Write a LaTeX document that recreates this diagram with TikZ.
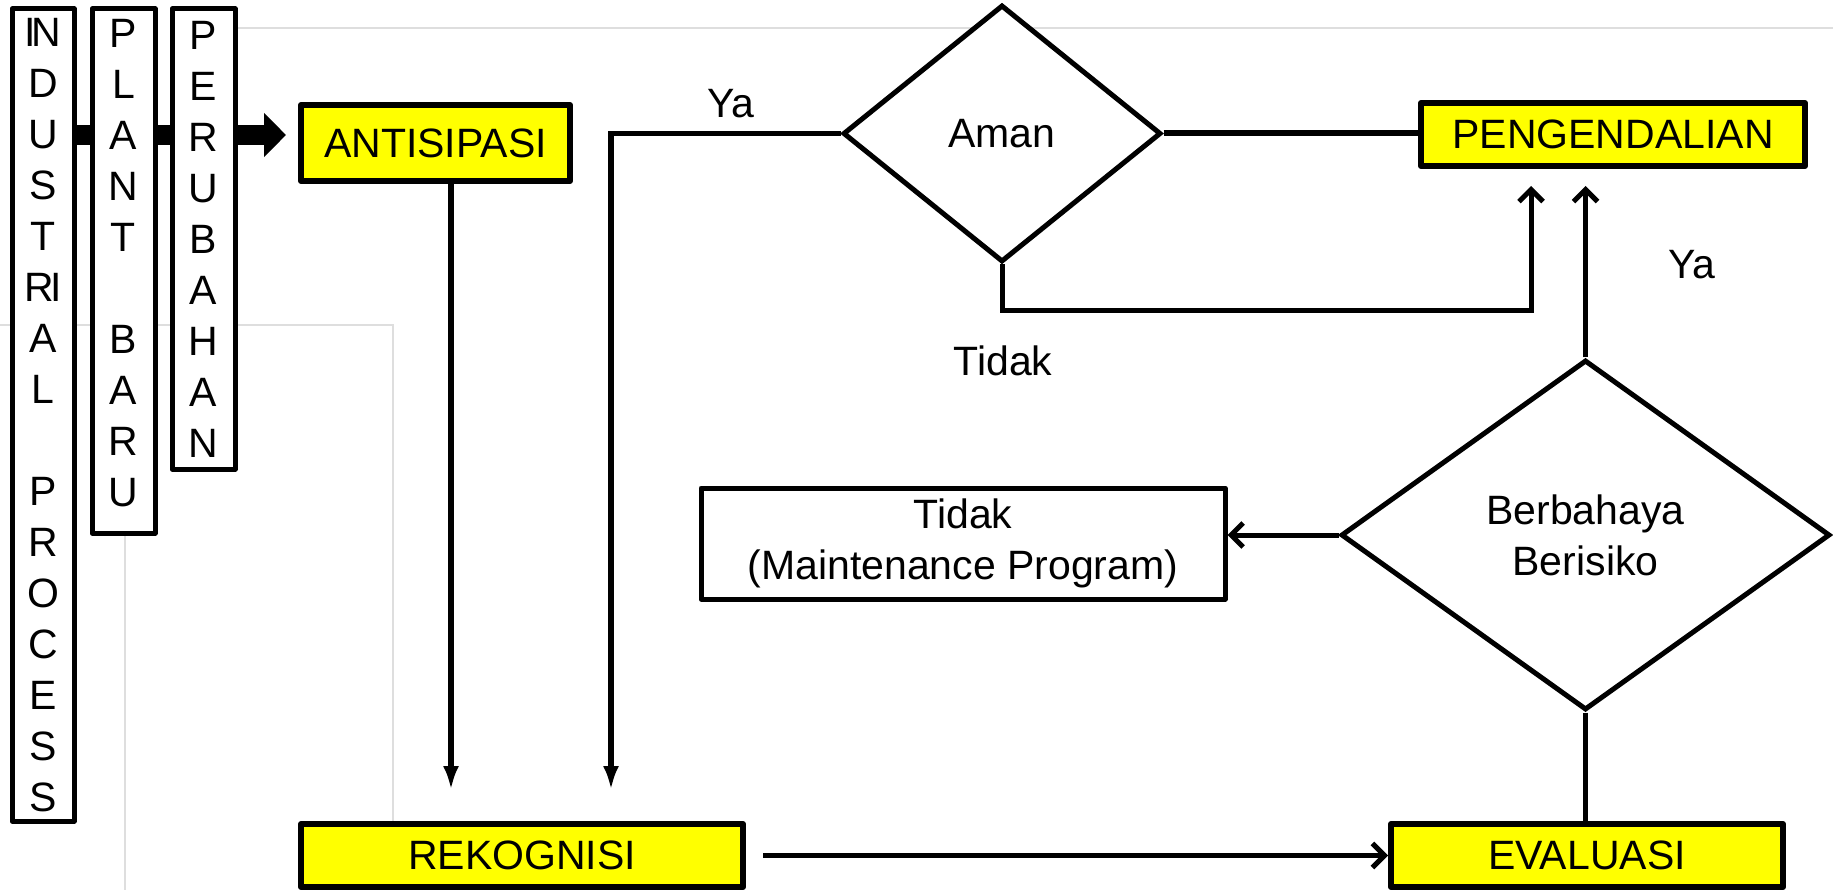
\documentclass[tikz,border=0pt]{standalone}
\usepackage{fontspec}
\setmainfont{Liberation Sans}
\usetikzlibrary{shapes.geometric,arrows.meta,calc}
\definecolor{yel}{RGB}{255,255,0}
\definecolor{bggrey}{RGB}{222,222,222}
\begin{document}
\begin{tikzpicture}[x=1pt,y=-1pt,
  txt/.style={font=\fontsize{41}{51}\selectfont},
  ybox/.style={draw, line width=6pt, fill=yel, inner sep=0pt, line join=round, txt},
  wbox/.style={draw, line width=5pt, fill=white, inner sep=0pt, line join=round, align=center, txt},
  dia/.style={diamond, draw, line width=5pt, fill=white, inner sep=0pt, align=center, txt},
  lbl/.style={inner sep=0pt, txt},
  bgline/.style={draw=bggrey, line width=2.5pt},
  thickbar/.style={line width=20pt},
  fline/.style={line width=5.5pt, -{Latex[length=24pt 0 0,width=16pt 0 0]}},
  oline/.style={line width=5pt, -{Straight Barb[length=12pt 0 0,width=24pt 0 0]}},
  pline/.style={line width=5pt}
]
\useasboundingbox (0,0) rectangle (1833,890);
\fill[white] (0,0) rectangle (1833,890);
% faint background lines
\draw[bgline] (236,28) -- (1833,28);
\draw[bgline] (0,325) -- (393,325) -- (393,890);
\draw[bgline] (125,325) -- (125,890);

% vertical boxes
\node[wbox, minimum width=62pt, minimum height=812pt] (v1) at (43,415)
  {I\kern-4pt N\\D\\U\\S\\T\\R\kern-3pt I\\A\\L\\[51pt]P\\R\\O\\C\\E\\S\\S};
\node[wbox, minimum width=63pt, minimum height=524pt] (v2) at (123.5,271)
  {P\\L\\A\\N\\T\\[51pt]B\\A\\R\\U\\[-35pt]\mbox{}};
\node[wbox, minimum width=63pt, minimum height=460pt] (v3) at (203.5,239)
  {P\\E\\R\\U\\B\\A\\H\\A\\N};

% yellow boxes
\node[ybox, minimum width=269pt, minimum height=76pt] (anti) at (435.5,143) {ANTISIPASI};
\node[ybox, minimum width=384pt, minimum height=63pt] (peng) at (1613,134.5) {PENGENDALIAN};
\node[ybox, minimum width=442pt, minimum height=63pt] (rek) at (522,855.5) {REKOGNISI};
\node[ybox, minimum width=392pt, minimum height=63pt] (eval) at (1587,855.5) {EVALUASI};

% white box
\node[wbox, minimum width=524pt, minimum height=111pt] (maint) at (963,543.5)
  {Tidak\\(Maintenance Program)};

% diamonds
\node[dia, minimum width=318pt, minimum height=257pt] (aman) at (1002,133.5) {Aman};
\node[dia, minimum width=489pt, minimum height=350pt] (ber) at (1585.5,535) {Berbahaya\\Berisiko};

% labels
\node[lbl] (ya1) at (731,104) {Ya};
\node[lbl] (tidak1) at (1003,361) {Tidak};
\node[lbl] (ya2) at (1692,265) {Ya};

% thick bars and arrow
\coordinate (by) at (0,135);
\draw[thickbar] (v1.east |- by) -- (v2.west |- by);
\draw[thickbar] (v2.east |- by) -- (v3.west |- by);
\draw[thickbar, -{Triangle[length=22pt 0 0,width=43pt 0 0]}, shorten >=12pt]
  (v3.east |- by) -- (anti.west |- by);

% connectors
\coordinate (xa) at (451,0);
\draw[fline, shorten >=31pt] (anti.south -| xa) -- (xa |- rek.north);
\draw[fline, shorten >=31pt] (aman.west) -| ([xshift=89pt]rek.north);
\draw[pline, line width=6pt] (aman.east) -- (aman.east -| peng.west);
\draw[oline, shorten >=17pt] (aman.south) -- ++(0,46) -| ([xshift=-82pt]peng.south);
\draw[oline, shorten >=17pt] (ber.north) -- (ber.north |- peng.south);
\draw[oline] (ber.west) -- (ber.west -| maint.east);
\draw[pline] (ber.south) -- (ber.south |- eval.north);
\draw[oline, shorten <=17pt] (rek.east) -- (rek.east -| eval.west);
\end{tikzpicture}
\end{document}
